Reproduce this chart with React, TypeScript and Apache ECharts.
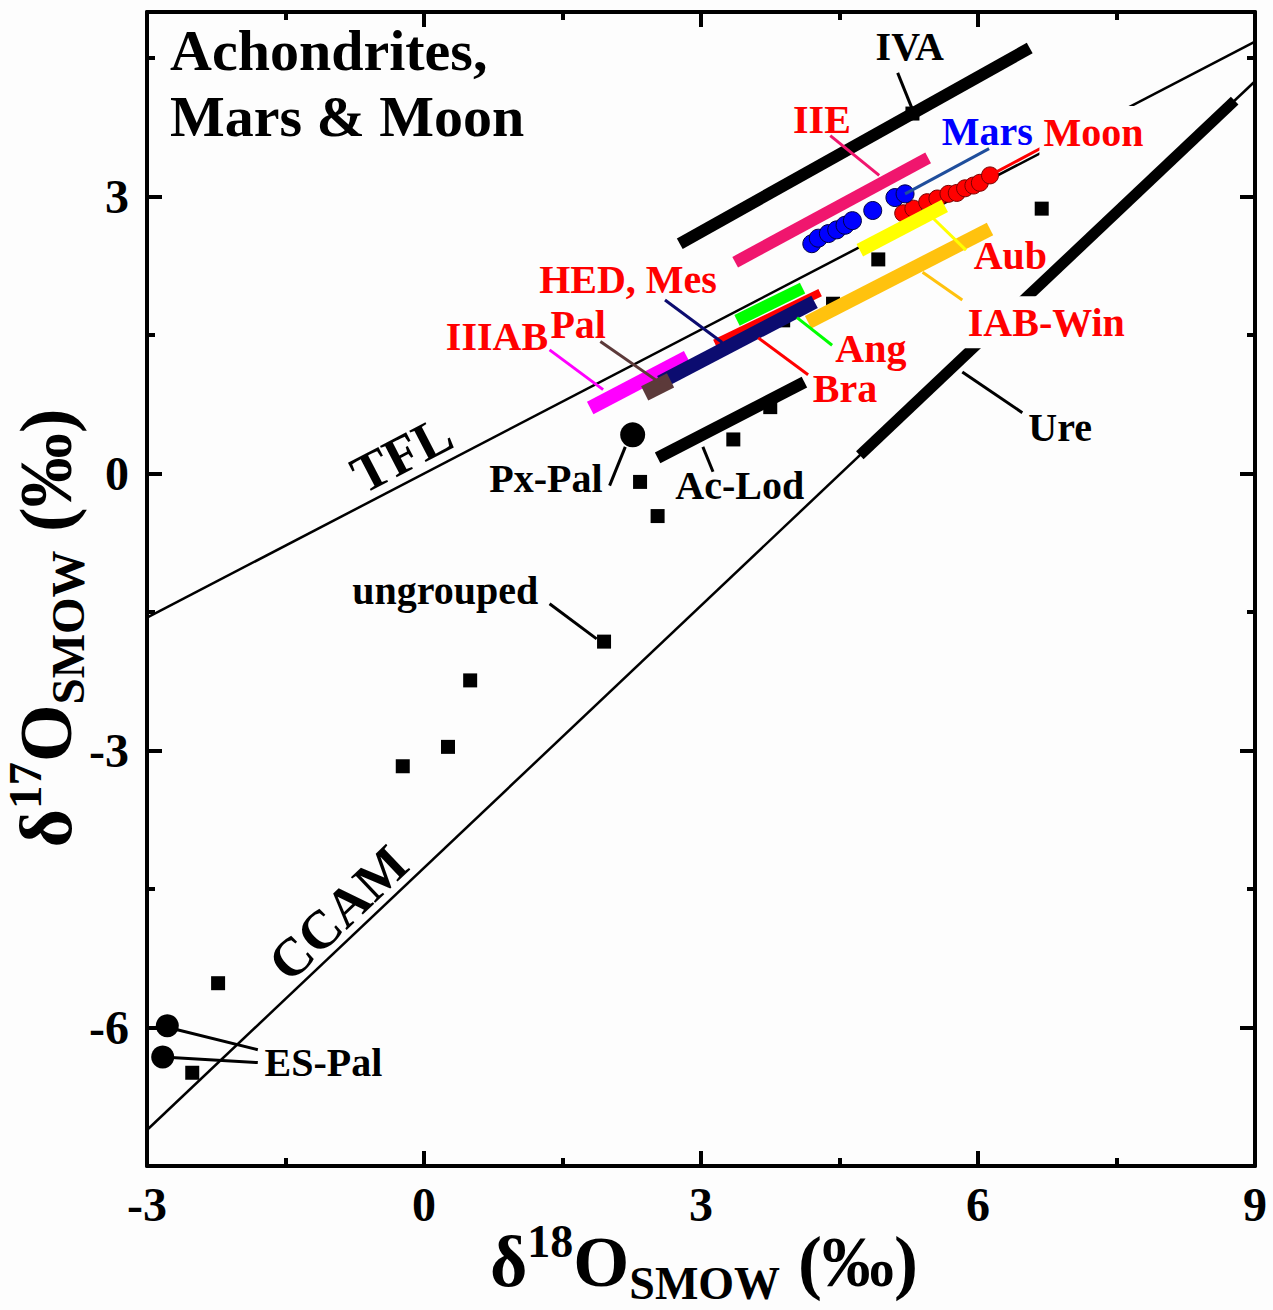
import React, { useEffect, useRef } from 'react';
import * as echarts from 'echarts';

const FONT = '"Liberation Serif", "Times New Roman", Times, serif';

// Reference fractionation lines, end points as [δ18O, δ17O]
const tflEnds = [[-3, -1.56], [9, 4.68]];
const ccamEnds = [[-3, -7.11], [9, 4.25]];

// Group fields drawn as thick bars: start and end points
const barNames = ['IVA', 'IIE', 'Ure', 'Ac-Lod', 'IAB-Win', 'Aub', 'IIIAB', 'Ang', 'Bra', 'HED, Mes', 'Pal'];
const barStart18 = [2.77, 3.37, 4.72, 2.53, 4.16, 4.72, 1.80, 3.39, 3.15, 2.56, 2.39];
const barStart17 = [2.49, 2.29, 0.20, 0.17, 1.64, 2.42, 0.71, 1.66, 1.41, 0.99, 0.87];
const barEnd18 = [6.56, 5.46, 8.78, 4.12, 6.13, 5.64, 2.85, 4.10, 4.29, 4.23, 2.67];
const barEnd17 = [4.61, 3.42, 4.04, 0.99, 2.65, 2.90, 1.26, 2.01, 1.96, 1.86, 1.01];

// Ungrouped achondrites
const ungrouped18 = [6.69, 4.92, 3.89, 4.43, 3.75, 3.35, 2.34, 2.53, 1.95, 0.50, 0.26, -0.23, -2.23, -2.51, 5.29];
const ungrouped17 = [2.87, 2.32, 1.66, 1.84, 0.72, 0.37, -0.09, -0.46, -1.82, -2.24, -2.96, -3.17, -5.52, -6.49, 3.90];

// Martian meteorites
const mars18 = [4.20, 4.27, 4.38, 4.47, 4.56, 4.64, 4.86, 5.10, 5.21];
const mars17 = [2.49, 2.55, 2.60, 2.64, 2.69, 2.74, 2.85, 2.99, 3.03];

// Lunar samples
const moon18 = [5.19, 5.30, 5.45, 5.56, 5.68, 5.77, 5.86, 5.95, 6.02, 6.13];
const moon17 = [2.82, 2.87, 2.94, 2.98, 3.03, 3.04, 3.09, 3.12, 3.15, 3.23];

// Pyroxene pallasites and Eagle Station pallasites
const pxPal18 = [2.26];
const pxPal17 = [0.42];
const esPal18 = [-2.78, -2.83];
const esPal17 = [-5.98, -6.32];

// Axis ticks
const xMajorTicks = [-3, 0, 3, 6, 9];
const yMajorTicks = [-6, -3, 0, 3];
const yMinorTicks = [-4.5, -1.5, 1.5, 4.5];

// Label anchors (centre of each text) and their leader lines
const labelNames = ['IVA', 'IIE', 'Mars', 'Moon', 'Aub', 'IAB-Win', 'HED, Mes', 'Pal', 'IIIAB', 'Ang', 'Bra', 'Ure', 'Px-Pal', 'Ac-Lod', 'ungrouped', 'ES-Pal', 'TFL', 'CCAM'];
const labelX = [5.26, 4.31, 6.10, 7.25, 6.35, 6.74, 2.21, 1.67, 0.79, 4.84, 4.56, 6.89, 1.32, 3.42, 0.23, -1.09, -0.24, -0.93];
const labelY = [4.63, 3.84, 3.71, 3.70, 2.36, 1.64, 2.10, 1.62, 1.48, 1.35, 0.92, 0.50, -0.05, -0.13, -1.27, -6.38, 0.21, -4.76];

const leaderNames = ['IVA', 'IIE', 'Mars', 'Moon', 'Aub', 'IAB-Win', 'HED, Mes', 'Pal', 'IIIAB', 'Ang', 'Bra', 'Ure', 'Ac-Lod', 'Px-Pal', 'ungrouped', 'ES-Pal', 'ES-Pal'];
const leaderFrom = [[5.13, 4.34], [4.40, 3.66], [5.21, 3.03], [6.13, 3.23], [5.50, 2.78], [5.40, 2.18], [2.61, 1.88], [1.91, 1.43], [1.36, 1.34], [4.04, 1.69], [3.62, 1.47], [5.83, 1.10], [3.02, 0.29], [2.18, 0.29], [1.36, -1.41], [-2.77, -6.00], [-2.83, -6.32]];
const leaderTo = [[5.32, 3.87], [4.93, 3.23], [6.12, 3.52], [6.69, 3.53], [5.87, 2.42], [5.83, 1.88], [3.23, 1.42], [2.56, 0.98], [1.94, 0.91], [4.42, 1.39], [4.16, 1.07], [6.48, 0.66], [3.13, 0.02], [2.01, -0.13], [1.87, -1.79], [-1.80, -6.24], [-1.80, -6.38]];

// Styling
const RED = '#ff0000';
const groupColor: Record<string, string> = {
  IVA: '#000000',
  IIE: '#f0166e',
  Ure: '#000000',
  'Ac-Lod': '#000000',
  'IAB-Win': '#ffc20e',
  Aub: '#ffff00',
  IIIAB: '#ff00ff',
  Ang: '#00ff00',
  Bra: '#ff0000',
  'HED, Mes': '#0c0c70',
  Pal: '#5c3a3a',
  Mars: '#1f4e9c',
  Moon: '#ff0000',
  'Px-Pal': '#000000',
  ungrouped: '#000000',
  'ES-Pal': '#000000',
};
const barWidth: Record<string, number> = {
  IVA: 12, IIE: 12, Ure: 11, 'Ac-Lod': 12, 'IAB-Win': 14, Aub: 14, IIIAB: 14, Ang: 12, Bra: 8, 'HED, Mes': 14, Pal: 16,
};
const labelColor: Record<string, string> = {
  IVA: '#000', IIE: RED, Mars: '#0000ff', Moon: RED, Aub: RED, 'IAB-Win': RED, 'HED, Mes': RED, Pal: RED, IIIAB: RED,
  Ang: RED, Bra: RED, Ure: '#000', 'Px-Pal': '#000', 'Ac-Lod': '#000', ungrouped: '#000', 'ES-Pal': '#000', TFL: '#000', CCAM: '#000',
};
const labelRotate: Record<string, number> = { TFL: 27.5, CCAM: 43.5 };
const labelSize: Record<string, number> = { TFL: 54, CCAM: 54 };
const labelBoxed = new Set(['Moon', 'IAB-Win']);
const BG = '#fdfdfd';

const tickLine = { color: '#000', width: 4 };
const tickFont = { fontFamily: FONT, fontWeight: 'bold' as const, fontSize: 48, color: '#000' };

function xAxisCfg(position: 'bottom' | 'top') {
  return {
    type: 'value',
    position,
    min: -3,
    max: 9,
    interval: 3,
    axisLine: { show: true, onZero: false, lineStyle: tickLine },
    axisTick: { show: true, inside: true, length: 15, lineStyle: tickLine },
    minorTick: { show: true, splitNumber: 2, length: 8, lineStyle: tickLine },
    axisLabel: position === 'bottom' ? { ...tickFont, margin: 14, customValues: xMajorTicks } : { show: false },
    splitLine: { show: false },
    minorSplitLine: { show: false },
  };
}

function yAxisCfg(position: 'left' | 'right', major: boolean) {
  return {
    type: 'value',
    position,
    min: -7.5,
    max: 5,
    interval: 1.5,
    axisLine: { show: major, onZero: false, lineStyle: tickLine },
    axisTick: {
      show: true,
      inside: true,
      length: major ? 15 : 8,
      customValues: major ? yMajorTicks : yMinorTicks,
      lineStyle: tickLine,
    },
    axisLabel:
      position === 'left' && major
        ? { ...tickFont, margin: 18, customValues: yMajorTicks }
        : { show: false },
    splitLine: { show: false },
  };
}

function pts(xs: number[], ys: number[]) {
  return xs.map((x, i) => [x, ys[i]]);
}

function titleRich(big: number, small: number) {
  const base = { fontFamily: FONT, fontWeight: 'bold', fill: '#000', color: '#000' };
  return {
    m: { ...base, fontSize: big, lineHeight: big + 16, verticalAlign: 'middle' },
    sup: { ...base, fontSize: small, lineHeight: small, verticalAlign: 'top' },
    sub: { ...base, fontSize: small, lineHeight: small, verticalAlign: 'bottom' },
  };
}

function buildOption() {
  const bars = barNames.map((n, i) => ({
    name: n,
    coords: [
      [barStart18[i], barStart17[i]],
      [barEnd18[i], barEnd17[i]],
    ],
    lineStyle: { color: groupColor[n], width: barWidth[n], opacity: 1, cap: 'butt' },
  }));

  const leaders = leaderNames.map((n, i) => ({
    name: n,
    coords: [leaderFrom[i], leaderTo[i]],
    lineStyle: { color: groupColor[n] || '#000', width: 3, opacity: 1 },
  }));

  return {
    animation: false,
    backgroundColor: BG,
    grid: { left: 147, top: 12, width: 1108, height: 1154, containLabel: false },
    xAxis: [xAxisCfg('bottom'), xAxisCfg('top')],
    yAxis: [yAxisCfg('left', true), yAxisCfg('left', false), yAxisCfg('right', true), yAxisCfg('right', false)],
    series: [
      {
        name: 'TFL',
        type: 'line',
        z: 2,
        data: tflEnds,
        symbol: 'none',
        silent: true,
        lineStyle: { color: '#000', width: 2.5 },
      },
      {
        name: 'CCAM',
        type: 'line',
        z: 2,
        data: ccamEnds,
        symbol: 'none',
        silent: true,
        lineStyle: { color: '#000', width: 2.5 },
      },
      {
        name: 'ungrouped',
        type: 'scatter',
        z: 3,
        symbol: 'rect',
        symbolSize: 14,
        data: pts(ungrouped18, ungrouped17),
        itemStyle: { color: '#000', opacity: 1 },
      },
      {
        name: 'Moon',
        type: 'scatter',
        z: 4,
        symbol: 'circle',
        symbolSize: 17,
        data: pts(moon18, moon17),
        itemStyle: { color: '#ff0000', borderColor: '#7a0000', borderWidth: 1, opacity: 1 },
      },
      {
        name: 'Mars',
        type: 'scatter',
        z: 4,
        symbol: 'circle',
        symbolSize: 18,
        data: pts(mars18, mars17),
        itemStyle: { color: '#0000ff', borderColor: '#000044', borderWidth: 1, opacity: 1 },
      },
      {
        name: 'Px-Pal',
        type: 'scatter',
        z: 4,
        symbol: 'circle',
        symbolSize: 25,
        data: pts(pxPal18, pxPal17),
        itemStyle: { color: '#000', opacity: 1 },
      },
      {
        name: 'ES-Pal',
        type: 'scatter',
        z: 4,
        symbol: 'circle',
        symbolSize: 23,
        data: pts(esPal18, esPal17),
        itemStyle: { color: '#000', opacity: 1 },
      },
      {
        name: 'groups',
        type: 'lines',
        coordinateSystem: 'cartesian2d',
        z: 5,
        silent: true,
        lineStyle: { opacity: 1, cap: 'butt' },
        data: bars,
      },
      {
        name: 'leaders',
        type: 'lines',
        coordinateSystem: 'cartesian2d',
        z: 6,
        silent: true,
        lineStyle: { opacity: 1 },
        data: leaders,
      },
      {
        name: 'labels',
        type: 'custom',
        z: 8,
        silent: true,
        clip: false,
        data: pts(labelX, labelY),
        renderItem: (params: any, api: any) => {
          const n = labelNames[params.dataIndex];
          const p = api.coord([api.value(0), api.value(1)]);
          const boxed = labelBoxed.has(n);
          return {
            type: 'text',
            x: p[0],
            y: p[1],
            rotation: ((labelRotate[n] || 0) * Math.PI) / 180,
            style: {
              text: n,
              fill: labelColor[n],
              fontFamily: FONT,
              fontWeight: 'bold',
              fontSize: labelSize[n] || 40,
              align: 'center',
              verticalAlign: 'middle',
              backgroundColor: boxed ? BG : undefined,
              padding: boxed ? [6, 4, 6, 4] : undefined,
            },
          };
        },
      },
    ],
    graphic: [
      {
        type: 'text',
        left: 170,
        top: 17,
        z: 100,
        style: {
          text: 'Achondrites,\nMars & Moon',
          fontFamily: FONT,
          fontWeight: 'bold',
          fontSize: 58,
          lineHeight: 66,
          fill: '#000',
        },
      },
      {
        type: 'text',
        x: 704,
        y: 1262,
        z: 100,
        style: {
          text: '{m|δ}{sup|18}{m|O}{sub|SMOW}{m| (‰)}',
          rich: titleRich(72, 46),
          align: 'center',
          verticalAlign: 'middle',
        },
      },
      {
        type: 'text',
        x: 46,
        y: 628,
        rotation: Math.PI / 2,
        z: 100,
        style: {
          text: '{m|δ}{sup|17}{m|O}{sub|SMOW}{m| (‰)}',
          rich: titleRich(74, 47),
          align: 'center',
          verticalAlign: 'middle',
        },
      },
    ],
  };
}

export default function App() {
  const ref = useRef<HTMLDivElement>(null);
  useEffect(() => {
    if (!ref.current) return;
    const chart = echarts.init(ref.current, null, { renderer: 'svg' });
    chart.setOption(buildOption() as any);
    return () => chart.dispose();
  }, []);
  return (
    <div
      ref={ref}
      style={{ position: 'fixed', left: 0, top: 0, width: 1273, height: 1310 }}
    />
  );
}
